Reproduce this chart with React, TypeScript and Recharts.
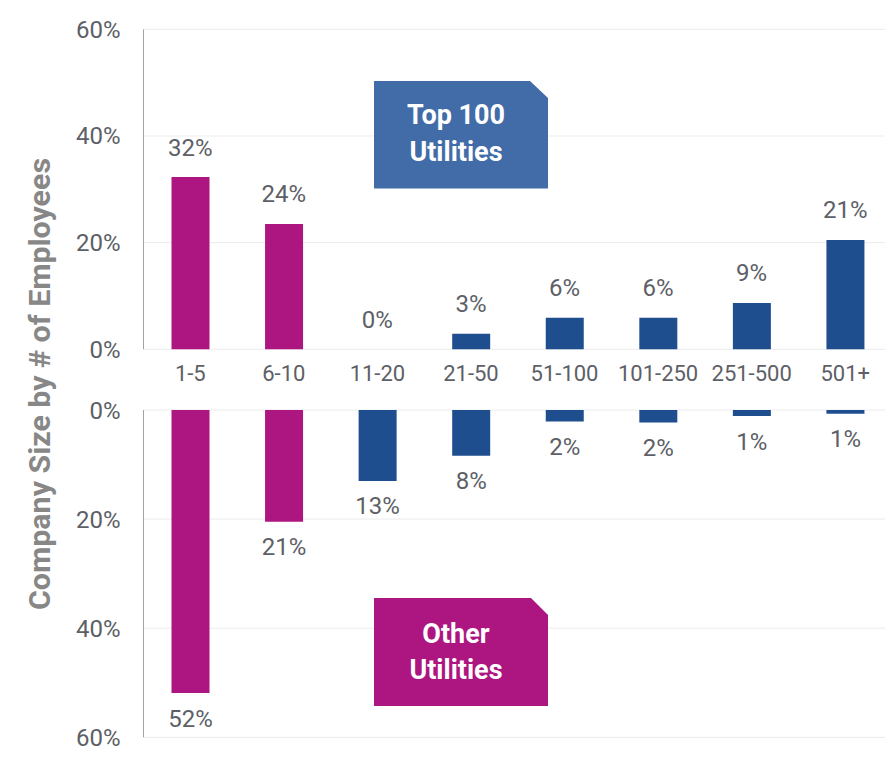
import React from 'react';
import { ComposedChart, BarChart, Bar, Line, XAxis, YAxis, CartesianGrid, Cell, LabelList } from 'recharts';

const categories = ['1-5', '6-10', '11-20', '21-50', '51-100', '101-250', '251-500', '501+'];
const top100Values = [32.3, 23.5, 0, 2.9, 5.9, 5.9, 8.7, 20.5];
const otherValues = [51.9, 20.5, 13.0, 8.4, 2.1, 2.3, 1.1, 0.7];
const barColors = ['#AD1581', '#AD1581', '#1F4E8F', '#1F4E8F', '#1F4E8F', '#1F4E8F', '#1F4E8F', '#1F4E8F'];
const yTicks = [0, 20, 40, 60];
const axisTitle = 'Company Size by # of Employees';
const topBoxLines = ['Top 100', 'Utilities'];
const bottomBoxLines = ['Other', 'Utilities'];

const topData = categories.map((c, i) => ({ category: c, value: top100Values[i] }));
const bottomData = categories.map((c, i) => ({ category: c, value: otherValues[i] }));

const TEXT = '#5d6066';
const GRID = '#ececec';
const FONT = 'Roboto, "Noto Sans", sans-serif';
const pct = (v: any) => `${Math.round(Number(v))}%`;

export default function App() {
  return (
    <div style={{ position: 'absolute', left: 0, top: 0, width: 885, height: 759, overflow: 'hidden', background: '#fff', fontFamily: FONT }}>
      <div style={{ position: 'absolute', left: 0, top: 0 }}>
        <ComposedChart width={892} height={390} data={topData} margin={{ top: 29.3, right: 0, bottom: 0, left: 0 }}>
          <CartesianGrid vertical={false} stroke={GRID} />
          <XAxis dataKey="category" height={40.7} axisLine={false} tickLine={false} tickSize={0} tickMargin={16}
            tick={{ fill: TEXT, fontSize: 22 }} interval={0} />
          <YAxis width={143.5} domain={[0, 60]} ticks={yTicks} tickFormatter={(v) => `${v}%`} axisLine={{ stroke: '#a3a3a3' }}
            tickLine={false} tickSize={0} tickMargin={23} tick={{ fill: TEXT, fontSize: 24 }} />
          <Bar dataKey="value" barSize={38} isAnimationActive={false}>
            {topData.map((d, i) => <Cell key={d.category} fill={barColors[i]} />)}
          </Bar>
          <Line dataKey="value" stroke="none" dot={false} activeDot={false} isAnimationActive={false}>
            <LabelList dataKey="value" position="top" offset={21.5} formatter={pct} fill={TEXT} fontSize={24} />
          </Line>
        </ComposedChart>
      </div>
      <div style={{ position: 'absolute', left: 0, top: 390 }}>
        <BarChart width={892} height={369} data={bottomData} margin={{ top: 20, right: 0, bottom: 21.7, left: 0 }}>
          <CartesianGrid vertical={false} stroke={GRID} />
          <XAxis dataKey="category" hide />
          <YAxis width={143.5} reversed domain={[0, 60]} ticks={yTicks} tickFormatter={(v) => `${v}%`} axisLine={{ stroke: '#a3a3a3' }}
            tickLine={false} tickSize={0} tickMargin={23} tick={{ fill: TEXT, fontSize: 24 }} />
          <Bar dataKey="value" barSize={38} isAnimationActive={false}>
            {bottomData.map((d, i) => <Cell key={d.category} fill={barColors[i]} />)}
            <LabelList dataKey="value" position="top" offset={16.5} formatter={pct} fill={TEXT} fontSize={24} />
          </Bar>
        </BarChart>
      </div>
      <svg width={885} height={759} style={{ position: 'absolute', left: 0, top: 0, pointerEvents: 'none' }}>
        <text x={50} y={384} transform="rotate(-90 50 384)" textAnchor="middle" fontSize={30} fontWeight="bold"
          fill="#878787" textLength={452} lengthAdjust="spacingAndGlyphs" fontFamily={FONT}>{axisTitle}</text>
        <polygon points="374,81 530,81 548,98 548,188.5 374,188.5" fill="#426CA8" />
        <text x={456} y={124} textAnchor="middle" fontSize={27} fontWeight="bold" fill="#fff" fontFamily={FONT}>{topBoxLines[0]}</text>
        <text x={456} y={161} textAnchor="middle" fontSize={27} fontWeight="bold" fill="#fff" fontFamily={FONT}>{topBoxLines[1]}</text>
        <polygon points="374,598 531,598 548,615 548,706 374,706" fill="#AD1581" />
        <text x={456} y={643} textAnchor="middle" fontSize={27} fontWeight="bold" fill="#fff" fontFamily={FONT}>{bottomBoxLines[0]}</text>
        <text x={456} y={678.5} textAnchor="middle" fontSize={27} fontWeight="bold" fill="#fff" fontFamily={FONT}>{bottomBoxLines[1]}</text>
      </svg>
    </div>
  );
}
